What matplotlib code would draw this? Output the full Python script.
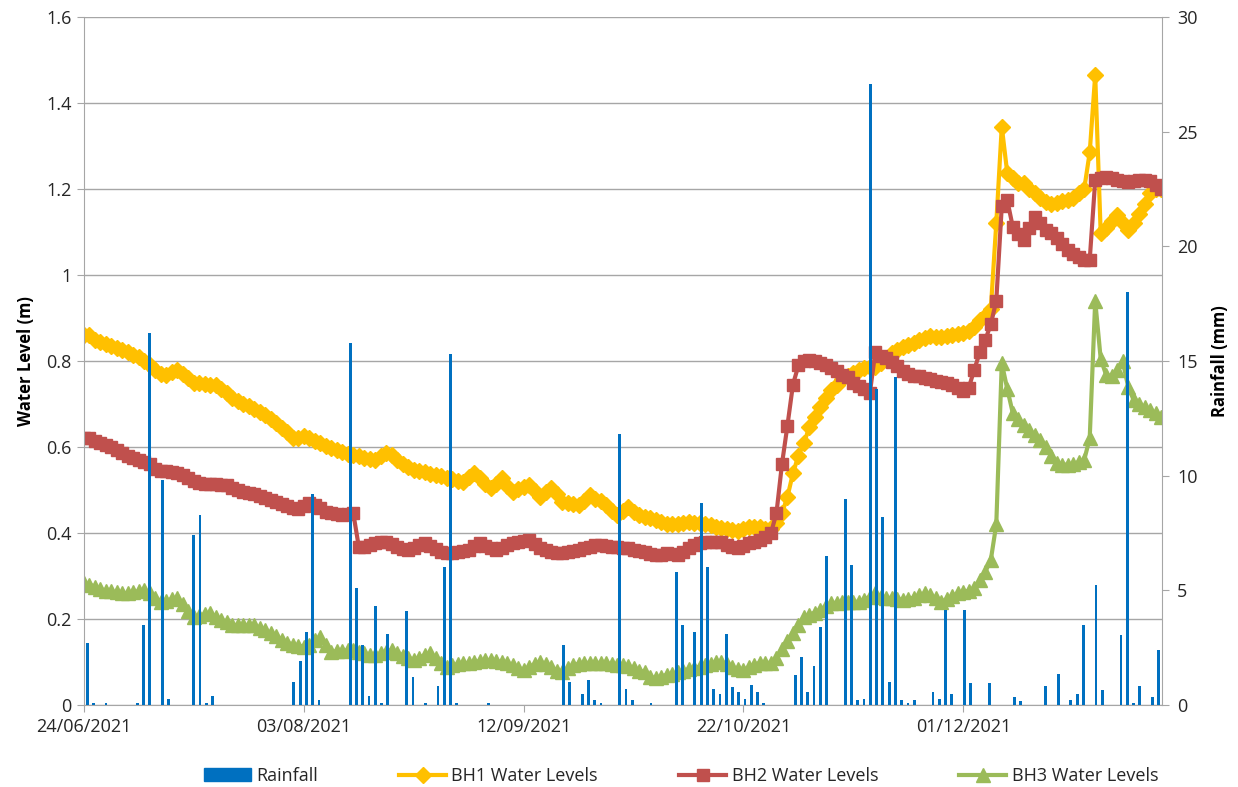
import numpy as np
import matplotlib.pyplot as plt
import matplotlib.dates as mdates
from matplotlib.lines import Line2D
from matplotlib.patches import Patch

plt.rcParams['font.family'] = ['Open Sans', 'DejaVu Sans']

# daily water levels (m) from 24/06/2021
start = np.datetime64('2021-06-24')

bh1 = [0.86, 0.86, 0.85, 0.845, 0.84, 0.835, 0.83, 0.825, 0.82, 0.815,
       0.81, 0.80, 0.79, 0.78, 0.77, 0.767, 0.775, 0.779, 0.77, 0.76,
       0.75, 0.748, 0.746, 0.745, 0.744, 0.735, 0.725, 0.714, 0.708, 0.70,
       0.695, 0.688, 0.682, 0.675, 0.665, 0.655, 0.645, 0.635, 0.622, 0.62,
       0.625, 0.62, 0.615, 0.61, 0.603, 0.597, 0.592, 0.588, 0.584, 0.581,
       0.578, 0.575, 0.572, 0.57, 0.578, 0.585, 0.582, 0.57, 0.56, 0.553,
       0.547, 0.545, 0.542, 0.538, 0.535, 0.532, 0.528, 0.525, 0.522, 0.519,
       0.53, 0.539, 0.528, 0.515, 0.505, 0.515, 0.528, 0.51, 0.496, 0.502,
       0.508, 0.512, 0.498, 0.484, 0.495, 0.505, 0.49, 0.473, 0.47, 0.467,
       0.465, 0.475, 0.488, 0.48, 0.475, 0.465, 0.452, 0.442, 0.452, 0.461,
       0.45, 0.442, 0.438, 0.434, 0.43, 0.425, 0.42, 0.421, 0.422, 0.424,
       0.425, 0.424, 0.423, 0.42, 0.418, 0.415, 0.412, 0.41, 0.407, 0.405,
       0.41, 0.413, 0.415, 0.413, 0.41, 0.41, 0.423, 0.446, 0.484, 0.539,
       0.58, 0.609, 0.647, 0.67, 0.694, 0.715, 0.733, 0.745, 0.757, 0.764,
       0.772, 0.78, 0.783, 0.785, 0.787, 0.795, 0.805, 0.818, 0.825, 0.833,
       0.838, 0.842, 0.848, 0.853, 0.857, 0.856, 0.855, 0.857, 0.86, 0.862,
       0.865, 0.87, 0.88, 0.895, 0.905, 0.92, 1.12, 1.345, 1.237, 1.225,
       1.215, 1.213, 1.2, 1.19, 1.18, 1.17, 1.166, 1.168, 1.172, 1.174,
       1.18, 1.19, 1.2, 1.285, 1.465, 1.097, 1.11, 1.125, 1.14, 1.12,
       1.105, 1.12, 1.143, 1.165, 1.19, 1.2, 1.2]

bh2 = [0.62, 0.62, 0.615, 0.61, 0.605, 0.60, 0.593, 0.587, 0.58, 0.575,
       0.57, 0.565, 0.56, 0.55, 0.545, 0.544, 0.542, 0.54, 0.535, 0.528,
       0.522, 0.516, 0.515, 0.514, 0.513, 0.512, 0.512, 0.505, 0.5, 0.496,
       0.494, 0.49, 0.486, 0.482, 0.477, 0.472, 0.467, 0.462, 0.458, 0.456,
       0.462, 0.47, 0.465, 0.458, 0.45, 0.446, 0.444, 0.443, 0.444, 0.446,
       0.368, 0.368, 0.372, 0.376, 0.378, 0.38, 0.375, 0.368, 0.362, 0.36,
       0.366, 0.372, 0.376, 0.37, 0.362, 0.356, 0.353, 0.354, 0.356, 0.358,
       0.36, 0.37, 0.376, 0.37, 0.364, 0.36, 0.366, 0.372, 0.376, 0.38,
       0.382, 0.384, 0.375, 0.366, 0.36, 0.356, 0.353, 0.354, 0.356, 0.359,
       0.36, 0.364, 0.368, 0.372, 0.371, 0.37, 0.368, 0.368, 0.366, 0.364,
       0.361, 0.358, 0.355, 0.352, 0.349, 0.35, 0.353, 0.351, 0.349, 0.355,
       0.365, 0.372, 0.376, 0.378, 0.379, 0.38, 0.378, 0.372, 0.368, 0.365,
       0.37, 0.376, 0.38, 0.384, 0.39, 0.40, 0.446, 0.56, 0.65, 0.745,
       0.79, 0.80, 0.802, 0.80, 0.796, 0.79, 0.783, 0.776, 0.767, 0.762,
       0.748, 0.742, 0.735, 0.726, 0.822, 0.812, 0.806, 0.797, 0.788, 0.776,
       0.77, 0.766, 0.764, 0.761, 0.757, 0.754, 0.751, 0.748, 0.745, 0.738,
       0.73, 0.738, 0.78, 0.82, 0.849, 0.885, 0.94, 1.16, 1.174, 1.112,
       1.095, 1.081, 1.11, 1.135, 1.12, 1.105, 1.097, 1.085, 1.072, 1.058,
       1.05, 1.042, 1.035, 1.035, 1.22, 1.225, 1.229, 1.225, 1.22, 1.218,
       1.217, 1.218, 1.22, 1.221, 1.218, 1.21, 1.2]

bh3 = [0.283, 0.28, 0.275, 0.27, 0.265, 0.264, 0.262, 0.261, 0.26, 0.262,
       0.265, 0.267, 0.26, 0.25, 0.24, 0.243, 0.246, 0.248, 0.235, 0.218,
       0.205, 0.208, 0.211, 0.213, 0.205, 0.198, 0.192, 0.186, 0.186, 0.186,
       0.186, 0.185, 0.18, 0.174, 0.167, 0.16, 0.152, 0.145, 0.14, 0.138,
       0.136, 0.14, 0.152, 0.159, 0.14, 0.124, 0.125, 0.126, 0.127, 0.128,
       0.124, 0.12, 0.117, 0.116, 0.12, 0.124, 0.128, 0.122, 0.115, 0.11,
       0.105, 0.11, 0.116, 0.121, 0.11, 0.098, 0.089, 0.092, 0.095, 0.097,
       0.098, 0.1, 0.102, 0.104, 0.105, 0.102, 0.1, 0.098, 0.092, 0.086,
       0.081, 0.088, 0.095, 0.101, 0.095, 0.088, 0.08, 0.077, 0.085, 0.092,
       0.096, 0.098, 0.098, 0.098, 0.098, 0.097, 0.095, 0.094, 0.093, 0.09,
       0.085, 0.08, 0.077, 0.065, 0.063, 0.066, 0.07, 0.073, 0.076, 0.079,
       0.083, 0.086, 0.089, 0.092, 0.096, 0.1, 0.101, 0.095, 0.088, 0.083,
       0.081, 0.088, 0.094, 0.098, 0.098, 0.098, 0.11, 0.13, 0.15, 0.167,
       0.185, 0.205, 0.21, 0.215, 0.222, 0.23, 0.237, 0.238, 0.239, 0.24,
       0.24, 0.24, 0.245, 0.252, 0.26, 0.252, 0.25, 0.248, 0.246, 0.245,
       0.246, 0.25, 0.255, 0.26, 0.255, 0.248, 0.24, 0.246, 0.253, 0.26,
       0.263, 0.266, 0.272, 0.29, 0.31, 0.337, 0.42, 0.795, 0.735, 0.679,
       0.665, 0.652, 0.64, 0.628, 0.616, 0.6, 0.58, 0.562, 0.559, 0.559,
       0.56, 0.565, 0.57, 0.62, 0.94, 0.805, 0.767, 0.765, 0.78, 0.8,
       0.74, 0.709, 0.7, 0.692, 0.686, 0.678, 0.67]

# daily rainfall (mm), 172 days; only days with rain listed
n_rain_days = 172
rain_day = [0, 1, 3, 8, 9, 10, 12, 13, 17, 18, 19, 20,
            33, 34, 35, 36, 37, 42, 43, 44, 45, 46, 47, 48,
            51, 52, 54, 56, 57, 58, 59, 64, 76, 77, 79, 80, 81, 82,
            85, 86, 87, 90, 94, 95, 97, 98, 99, 100, 101, 102, 103, 104,
            105, 106, 107, 108, 113, 114, 115, 116, 117, 118, 121, 122, 123, 124,
            125, 126, 127, 128, 129, 130, 131, 132, 135, 136, 137, 138, 140, 141,
            144, 148, 149, 153, 155, 157, 158, 159, 161, 162, 165, 166, 167, 168,
            170, 171]
rain_mm = [2.7, 0.1, 0.1, 0.1, 3.5, 16.2, 9.8, 0.26, 7.4, 8.3, 0.1, 0.4,
           1.0, 1.9, 3.2, 9.2, 0.2, 15.8, 5.1, 2.6, 0.4, 4.3, 0.1, 3.1,
           4.1, 1.2, 0.1, 0.85, 6.0, 15.3, 0.1, 0.1, 2.6, 1.0, 0.5, 1.1, 0.2, 0.1,
           11.8, 0.7, 0.2, 0.1, 5.8, 3.5, 3.2, 8.8, 6.0, 0.7, 0.5, 3.1, 0.8, 0.55,
           0.26, 0.86, 0.55, 0.1, 1.3, 2.1, 0.55, 1.7, 3.4, 6.5, 9.0, 6.1, 0.2, 0.26,
           27.1, 13.8, 8.2, 1.0, 14.3, 0.2, 0.07, 0.2, 0.55, 0.25, 4.15, 0.48, 4.15, 0.96,
           0.96, 0.36, 0.18, 0.84, 1.36, 0.2, 0.5, 3.48, 5.25, 0.65, 3.05, 18.0, 0.08, 0.85,
           0.37, 2.42]

x0 = mdates.date2num(start)
x = mdates.date2num(start + np.arange(len(bh1)))
rain = np.zeros(n_rain_days)
rain[rain_day] = rain_mm

c_rain, c1, c2, c3 = '#0070C0', '#FFC000', '#C0504D', '#9BBB59'
grey = '#A6A6A6'

fig = plt.figure(figsize=(12.38, 7.87), dpi=100)
rect = [84 / 1238, 1 - 705 / 787, (1161.7 - 84) / 1238, (705 - 17) / 787]
ax = fig.add_axes(rect)

ax.plot(x, bh1, color=c1, lw=3, marker='D', ms=8.5, mec=c1)
ax.plot(x, bh2, color=c2, lw=3, marker='s', ms=9, mec=c2)
ax.plot(x, bh3, color=c3, lw=3, marker='^', ms=10, mec=c3)

ax.set_xlim(x0, x0 + 196.1)
ax.set_xticks(x0 + np.arange(0, 161, 40))
ax.xaxis.set_major_formatter(mdates.DateFormatter('%d/%m/%Y'))
ax.set_ylim(0, 1.6)
ax.set_yticks(np.arange(0, 1.61, 0.2))
ax.set_yticklabels(['0', '0.2', '0.4', '0.6', '0.8', '1', '1.2', '1.4', '1.6'])
ax.yaxis.grid(True, color=grey, lw=1)
ax.set_axisbelow(True)
for s in ['top', 'right']:
    ax.spines[s].set_visible(False)
for s in ['left', 'bottom']:
    ax.spines[s].set_color(grey)
ax.tick_params(direction='out', length=5, color=grey, labelsize=13, labelcolor='#262626', pad=4)
ax.set_ylabel('Water Level (m)', fontsize=12, fontweight='bold', labelpad=8)

# rainfall on its own category axis, drawn on top
axr = fig.add_axes(rect, facecolor='none')
axr.bar(np.arange(n_rain_days), rain, width=0.45, color=c_rain)
axr.set_xlim(-0.5, n_rain_days - 0.5)
axr.set_ylim(0, 30)
axr.set_yticks(np.arange(0, 31, 5))
axr.xaxis.set_visible(False)
axr.yaxis.tick_right()
axr.yaxis.set_label_position('right')
for s in ['top', 'left', 'bottom']:
    axr.spines[s].set_visible(False)
axr.spines['right'].set_color(grey)
axr.tick_params(direction='out', length=5, color=grey, labelsize=13, labelcolor='#262626', pad=6)
axr.set_ylabel('Rainfall (mm)', fontsize=12, fontweight='bold', labelpad=10)

handles = [Patch(color=c_rain),
           Line2D([], [], color=c1, lw=3, marker='D', ms=8.5),
           Line2D([], [], color=c2, lw=3, marker='s', ms=9),
           Line2D([], [], color=c3, lw=3, marker='^', ms=10)]
labels = ['Rainfall', 'BH1 Water Levels', 'BH2 Water Levels', 'BH3 Water Levels']
fig.legend(handles, labels, loc='center', bbox_to_anchor=(0.55, 0.014), ncol=4,
           frameon=False, fontsize=13, handlelength=2.6, handletextpad=0.3,
           columnspacing=4.5, labelcolor='#262626')

fig.savefig('out.png', dpi=100)
